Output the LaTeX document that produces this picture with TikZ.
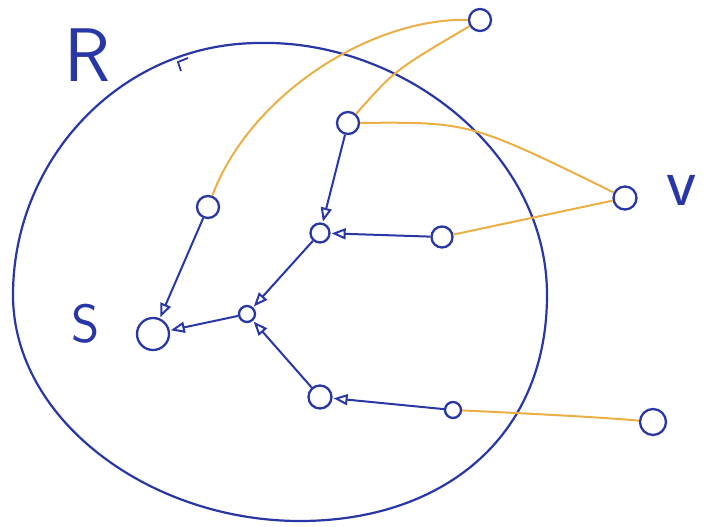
\documentclass[tikz,border=0pt]{standalone}
\usetikzlibrary{arrows.meta}
\definecolor{inkblue}{RGB}{40,55,165}
\definecolor{inkorange}{RGB}{235,175,70}
\begin{document}
\begin{tikzpicture}[x=1pt,y=-1pt,
  vtx/.style={draw=inkblue,line width=2.3pt,circle,inner sep=0pt,minimum size=#1},
  vtx/.default=20pt,
  barr/.style={draw=inkblue,line width=2pt,-{Triangle[open,length=14pt,width=11pt,line width=2pt]},shorten >=1pt},
  oline/.style={draw=inkorange,line width=2pt},
  lab/.style={text=inkblue,font=\sffamily\fontsize{#1}{#1}\selectfont,inner sep=0pt},
]
\useasboundingbox (0,0) rectangle (705,527);
% region R
\draw[inkblue,line width=2.2pt] (260,43) .. controls (400,40) and (547,150) .. (547,295)
  .. controls (547,440) and (440,521) .. (300,521)
  .. controls (150,521) and (13,420) .. (13,295)
  .. controls (13,160) and (120,43) .. cycle;
\draw[inkblue,line width=1.8pt] (181,71) -- (178,62) -- (188,58);
% labels
\node[lab=76] (labR) at (88,55) {R};
\node[lab=54] (labS) at (86,324) {S};
\node[lab=70] (labv) at (682,190) {v};
% vertices
\node[vtx=22pt] (T) at (480,20) {};
\node[vtx=22pt] (A) at (348,123) {};
\node[vtx=22pt] (L) at (208,207) {};
\node[vtx=19pt] (B) at (320,233) {};
\node[vtx=21pt] (C) at (442,237) {};
\node[vtx=23pt] (v) at (625,198) {};
\node[vtx=32pt] (S) at (153,334) {};
\node[vtx=16pt] (M) at (247,314) {};
\node[vtx=23pt] (D) at (320,397) {};
\node[vtx=16pt] (E) at (453,410) {};
\node[vtx=26pt] (F) at (653,422) {};
% orange links
\draw[oline] (L) .. controls (250,95) and (370,18) .. (T);
\draw[oline] (A) .. controls (395,70) .. (T);
\draw[oline] (A) .. controls (470,122) .. (v);
\draw[oline] (C) -- (v);
\draw[oline] (E) .. controls (560,415) and (610,418) .. (F);
% blue arrows
\draw[barr] (L) -- (S);
\draw[barr] (M) -- (S);
\draw[barr] (B) -- (M);
\draw[barr] (A) -- (B);
\draw[barr] (C) -- (B);
\draw[barr] (D) -- (M);
\draw[barr] (E) -- (D);
\end{tikzpicture}
\end{document}
